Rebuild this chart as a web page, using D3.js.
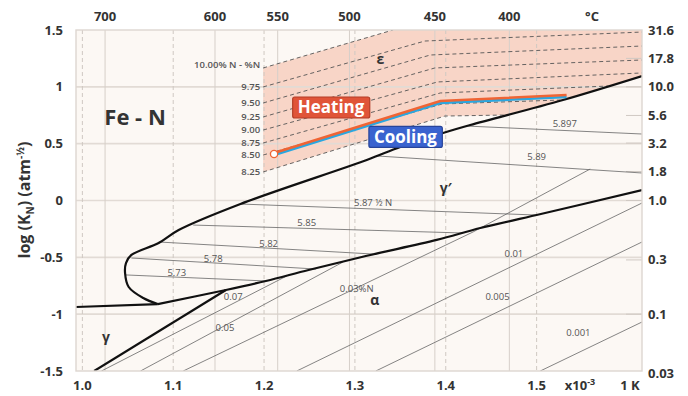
<!DOCTYPE html>
<html>
<head>
<meta charset="utf-8" />
<title>Fe - N</title>
<script src="https://cdnjs.cloudflare.com/ajax/libs/d3/7.8.5/d3.min.js"></script>
<style>
  body { margin: 0; background: #fff; font-family: "Open Sans", "Noto Sans", sans-serif; }
  svg { display: block; }
  .bold { font-weight: 700; fill: #333; }
  .small { font-size: 9.5px; fill: #555; }
</style>
</head>
<body>
<svg id="chart" width="688" height="396"></svg>
<script>
// bottom axis: 1000/T (1/K, x10^-3)
const invTTicks = [1.0, 1.1, 1.2, 1.3, 1.4, 1.5];
// top axis: temperature labels (°C) and where they sit on the 1000/T axis
const tempLabels = ["700", "600", "550", "500", "450", "400"];
const tempInvT = [1.025, 1.146, 1.215, 1.294, 1.388, 1.470];
// left axis: log(KN)
const logKTicks = [1.5, 1, 0.5, 0, -0.5, -1, -1.5];
// right axis: KN
const knTicks = ["31.6", "17.8", "10.0", "5.6", "3.2", "1.8", "1.0", "0.3", "0.1", "0.03"];

// phase boundaries [1000/T, log KN]
const gammaNose = [[1.083, -0.911], [1.067, -0.858], [1.051, -0.761], [1.047, -0.638], [1.048, -0.550],
  [1.054, -0.479], [1.084, -0.374], [1.106, -0.260], [1.174, -0.031], [1.313, 0.356],
  [1.350, 0.471], [1.397, 0.594], [1.427, 0.664], [1.529, 0.884], [1.616, 1.095]];
const alphaBoundary = [[1.083, -0.911], [1.158, -0.787], [1.202, -0.708], [1.249, -0.611], [1.312, -0.488],
  [1.390, -0.347], [1.438, -0.242], [1.500, -0.128], [1.616, 0.092]];
const gammaFloor = [[0.993, -0.937], [1.083, -0.911]];
const alphaGamma = [[1.013, -1.5], [1.158, -0.787]];

// ε region and its %N lines
const epsBand = [[1.199, 1.166], [1.342, 1.5], [1.616, 1.5], [1.616, 1.095], [1.529, 0.884],
  [1.465, 0.752], [1.399, 0.743], [1.199, 0.251]];
const epsLevels = ["10.00% N - %N", "9.75", "9.50", "9.25", "9.00", "8.75", "8.50", "8.25"];
const epsLines = [
  [[1.199, 1.166], [1.342, 1.5]],
  [[1.199, 0.999], [1.377, 1.403], [1.616, 1.482]],
  [[1.199, 0.858], [1.383, 1.280], [1.616, 1.359]],
  [[1.199, 0.735], [1.388, 1.166], [1.616, 1.236]],
  [[1.199, 0.620], [1.391, 1.043], [1.616, 1.122]],
  [[1.199, 0.506], [1.394, 0.946], [1.579, 1.007]],
  [[1.199, 0.400], [1.396, 0.849], [1.526, 0.884]],
  [[1.199, 0.251], [1.399, 0.743], [1.465, 0.752]]
];

// γ / γ' lines
const tieLabels = ["5.73", "5.78", "5.82", "5.85", "5.87 ½ N", "5.89", "5.897"];
const tieLines = [
  [[1.048, -0.655], [1.202, -0.708]],
  [[1.054, -0.506], [1.257, -0.603]],
  [[1.084, -0.365], [1.320, -0.471]],
  [[1.122, -0.216], [1.419, -0.286]],
  [[1.174, -0.031], [1.500, -0.128]],
  [[1.324, 0.392], [1.616, 0.242]],
  [[1.423, 0.655], [1.616, 0.585]]
];
const tieLabelAt = [[1.104, -0.638], [1.144, -0.515], [1.205, -0.383], [1.247, -0.198],
  [1.320, -0.022], [1.500, 0.383], [1.531, 0.673]];

// α lines
const alphaLabels = ["0.07", "0.05", "0.03%N", "0.01", "0.005", "0.001"];
const alphaLines = [
  [[1.021, -1.5], [1.225, -0.664]],
  [[1.064, -1.5], [1.287, -0.541]],
  [[1.111, -1.5], [1.430, -0.277], [1.559, 0.277]],
  [[1.236, -1.5], [1.616, -0.022]],
  [[1.323, -1.5], [1.616, -0.365]],
  [[1.504, -1.5], [1.616, -1.069]]
];
const alphaLabelAt = [[1.166, -0.849], [1.157, -1.122], [1.302, -0.772], [1.475, -0.471],
  [1.457, -0.849], [1.546, -1.166]];

// process paths
const heating = [[1.211, 0.418], [1.394, 0.875], [1.533, 0.928]];
const cooling = [[1.211, 0.400], [1.394, 0.858], [1.533, 0.911]];

const regionNames = ["ε", "γ′", "α", "γ"];
const regionAt = [[1.328, 1.245], [1.400, 0.110], [1.322, -0.872], [1.026, -1.200]];

const W = 688, H = 396;
const plot = { left: 76, right: 642, top: 30, bottom: 371 };
const x = d3.scaleLinear().domain([0.993, 1.616]).range([plot.left, plot.right]);
const y = d3.scaleLinear().domain([-1.5, 1.5]).range([plot.bottom, plot.top]);

const svg = d3.select("#chart");
svg.append("rect").attr("width", W).attr("height", H).attr("fill", "#fff");
svg.append("defs").append("clipPath").attr("id", "clip")
  .append("rect").attr("x", plot.left).attr("y", plot.top)
  .attr("width", plot.right - plot.left).attr("height", plot.bottom - plot.top);

svg.append("rect").attr("x", plot.left).attr("y", plot.top)
  .attr("width", plot.right - plot.left).attr("height", plot.bottom - plot.top)
  .attr("fill", "#fcf8f4");

const g = svg.append("g").attr("clip-path", "url(#clip)");
const line = d3.line().x(d => x(d[0])).y(d => y(d[1]));
const smooth = d3.line().x(d => x(d[0])).y(d => y(d[1])).curve(d3.curveCatmullRom.alpha(0.5));

// ε band
g.append("path").attr("d", line(epsBand) + "Z").attr("fill", "#f8d5c7");

// grid
g.selectAll(".hgrid").data(logKTicks.filter(v => Math.abs(v) < 1.5)).enter().append("line")
  .attr("x1", plot.left).attr("x2", plot.right)
  .attr("y1", d => y(d)).attr("y2", d => y(d))
  .attr("stroke", "#e2dbd5").attr("stroke-width", 1.6);
g.selectAll(".vdash").data(invTTicks).enter().append("line")
  .attr("x1", d => x(d)).attr("x2", d => x(d))
  .attr("y1", plot.top).attr("y2", plot.bottom)
  .attr("stroke", "#cfc8c2").attr("stroke-dasharray", "4,3");
g.selectAll(".vsolid").data(tempInvT).enter().append("line")
  .attr("x1", d => x(d)).attr("x2", d => x(d))
  .attr("y1", plot.top).attr("y2", plot.bottom)
  .attr("stroke", "#d6cfc9");

// right side tick marks
g.selectAll(".rtick").data(knTicks.slice(1, -1)).enter().append("line")
  .attr("x1", plot.right - 16).attr("x2", plot.right)
  .attr("y1", d => y(Math.log10(+d))).attr("y2", d => y(Math.log10(+d)))
  .attr("stroke", "#d0c9c3");

// ε %N lines
g.selectAll(".eps").data(epsLines).enter().append("path")
  .attr("d", line).attr("fill", "none")
  .attr("stroke", "#555").attr("stroke-width", 0.9).attr("stroke-dasharray", "4,3");

// thin lines
g.selectAll(".tie").data(tieLines.concat(alphaLines)).enter().append("path")
  .attr("d", line).attr("fill", "none")
  .attr("stroke", "#666").attr("stroke-width", 0.8);

// thick boundaries
[gammaNose, alphaBoundary].forEach(b => g.append("path").attr("d", smooth(b))
  .attr("fill", "none").attr("stroke", "#111").attr("stroke-width", 2.2));
[gammaFloor, alphaGamma].forEach(b => g.append("path").attr("d", line(b))
  .attr("fill", "none").attr("stroke", "#111").attr("stroke-width", 2.2));

// heating / cooling
g.append("path").attr("d", line(cooling)).attr("fill", "none")
  .attr("stroke", "#2aa7e0").attr("stroke-width", 2.6);
g.append("path").attr("d", line(heating)).attr("fill", "none")
  .attr("stroke", "#ef6434").attr("stroke-width", 2.6);
g.append("circle").attr("cx", x(heating[0][0])).attr("cy", y(heating[0][1]) + 1).attr("r", 3.6)
  .attr("fill", "#fff").attr("stroke", "#ef6434").attr("stroke-width", 1.3);

// plot frame
svg.append("rect").attr("x", plot.left).attr("y", plot.top)
  .attr("width", plot.right - plot.left).attr("height", plot.bottom - plot.top)
  .attr("fill", "none").attr("stroke", "#ddd6d0").attr("stroke-width", 1.4);

// small labels
g.selectAll(".epsl").data(epsLevels).enter().append("text")
  .attr("class", "small").style("font-weight", 600)
  .attr("x", (d, i) => x(epsLines[i][0][0]) - 3)
  .attr("y", (d, i) => y(epsLines[i][0][1]) + (i === 0 ? -3 : 0))
  .attr("dy", "0.35em").attr("text-anchor", "end").text(d => d);
g.selectAll(".tiel").data(tieLabels).enter().append("text")
  .attr("class", "small")
  .attr("x", (d, i) => x(tieLabelAt[i][0])).attr("y", (d, i) => y(tieLabelAt[i][1]))
  .attr("dy", "0.35em").attr("text-anchor", "middle").text(d => d);
g.selectAll(".alphal").data(alphaLabels).enter().append("text")
  .attr("class", "small")
  .attr("x", (d, i) => x(alphaLabelAt[i][0])).attr("y", (d, i) => y(alphaLabelAt[i][1]))
  .attr("dy", "0.35em").attr("text-anchor", "middle").text(d => d);

// region names
g.selectAll(".region").data(regionNames).enter().append("text")
  .attr("class", "bold").style("font-size", "14px")
  .attr("x", (d, i) => x(regionAt[i][0])).attr("y", (d, i) => y(regionAt[i][1]))
  .attr("dy", "0.35em").attr("text-anchor", "middle").text(d => d);
g.append("text").attr("class", "bold").style("font-size", "22px")
  .attr("x", x(1.058)).attr("y", y(0.735)).attr("dy", "0.35em")
  .attr("text-anchor", "middle").text("Fe - N");

// Heating / Cooling tags
function tag(label, at, fill, edge) {
  const t = svg.append("g").attr("transform", `translate(${x(at[0])},${y(at[1])})`);
  const r = t.append("rect");
  const txt = t.append("text").attr("text-anchor", "middle").attr("dy", "0.35em")
    .style("font-size", "17px").style("font-weight", 700).attr("fill", "#fff").text(label);
  const bb = txt.node().getBBox();
  r.attr("x", bb.x - 5).attr("y", -10.5).attr("width", bb.width + 10).attr("height", 21)
    .attr("rx", 2).attr("fill", fill).attr("stroke", edge).attr("stroke-width", 1.2);
}
tag("Heating", [1.2737, 0.818], "#e05438", "#b33d26");
tag("Cooling", [1.3556, 0.559], "#3a63cf", "#27449a");

// axes labels
svg.selectAll(".ylab").data(logKTicks).enter().append("text")
  .attr("class", "bold").style("font-size", "13px")
  .attr("x", 63).attr("y", d => y(d)).attr("dy", "0.35em")
  .attr("text-anchor", "end").text(d => d);
svg.selectAll(".xlab").data(invTTicks).enter().append("text")
  .attr("class", "bold").style("font-size", "13px")
  .attr("x", d => x(d)).attr("y", 385).attr("dy", "0.35em")
  .attr("text-anchor", "middle").text(d => d.toFixed(1));
const unit = svg.append("text").attr("class", "bold").style("font-size", "13px")
  .attr("x", plot.right - 62).attr("y", 385).attr("dy", "0.35em").attr("text-anchor", "middle");
unit.append("tspan").text("x10");
unit.append("tspan").text("-3").attr("dy", -5).style("font-size", "9px");
svg.append("text").attr("class", "bold").style("font-size", "13px")
  .attr("x", plot.right - 12).attr("y", 385).attr("dy", "0.35em")
  .attr("text-anchor", "middle").text("1 K");
svg.selectAll(".tlab").data(tempLabels).enter().append("text")
  .attr("class", "bold").style("font-size", "13px")
  .attr("x", (d, i) => x(tempInvT[i])).attr("y", 16).attr("dy", "0.35em")
  .attr("text-anchor", "middle").text(d => d);
svg.append("text").attr("class", "bold").style("font-size", "13px")
  .attr("x", x(1.561)).attr("y", 16).attr("dy", "0.35em")
  .attr("text-anchor", "middle").text("°C");
svg.selectAll(".rlab").data(knTicks).enter().append("text")
  .attr("class", "bold").style("font-size", "13px")
  .attr("x", plot.right + 6).attr("y", d => y(Math.log10(+d))).attr("dy", "0.35em")
  .text(d => d);

// y title
const yt = svg.append("text").attr("class", "bold").style("font-size", "16px")
  .attr("transform", "translate(30,200) rotate(-90)").attr("text-anchor", "middle");
yt.append("tspan").text("log (K");
yt.append("tspan").text("N").attr("dy", 4).style("font-size", "10px");
yt.append("tspan").text(") (atm").attr("dy", -4);
yt.append("tspan").text("-½").attr("dy", -6).style("font-size", "10px");
yt.append("tspan").text(")").attr("dy", 6);
</script>
</body>
</html>
